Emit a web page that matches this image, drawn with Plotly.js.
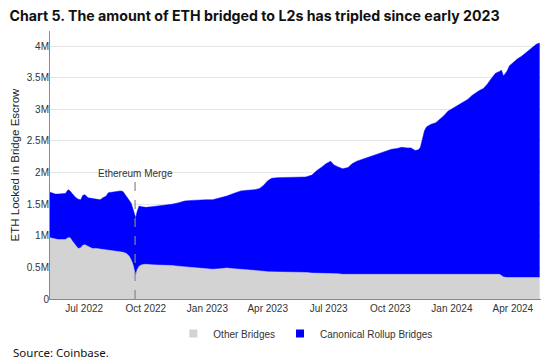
<!DOCTYPE html>
<html>
<head>
<meta charset="utf-8">
<script src="https://cdn.plot.ly/plotly-3.0.1.min.js"></script>
<style>html,body{margin:0;padding:0;background:#fff;}#chart{width:555px;height:361px;}</style>
</head>
<body>
<div id="chart"></div>
<script>
// Dates of samples
const dates = [
"2022-05-11","2022-05-19","2022-05-23","2022-05-29","2022-06-03","2022-06-07","2022-06-10","2022-06-13","2022-06-18","2022-06-22",
"2022-06-26","2022-06-29","2022-07-02","2022-07-07","2022-07-13","2022-07-19","2022-07-25","2022-07-29","2022-08-03","2022-08-06",
"2022-08-12","2022-08-18","2022-08-24","2022-08-28","2022-09-02","2022-09-06","2022-09-09","2022-09-12","2022-09-15","2022-09-16",
"2022-09-18","2022-09-21","2022-09-25","2022-10-01","2022-10-10","2022-10-19","2022-10-29","2022-11-09","2022-11-18","2022-11-28",
"2022-12-09","2022-12-19","2022-12-30","2023-01-09","2023-01-20","2023-01-30","2023-02-09","2023-02-20","2023-03-02","2023-03-13",
"2023-03-20","2023-03-26","2023-04-01","2023-04-07","2023-04-16","2023-04-26","2023-05-07","2023-05-17","2023-05-28","2023-06-06",
"2023-06-13","2023-06-21","2023-06-27","2023-07-04","2023-07-09","2023-07-15","2023-07-22","2023-07-30","2023-08-05","2023-08-12",
"2023-08-20","2023-08-27","2023-09-03","2023-09-11","2023-09-18","2023-09-26","2023-10-03","2023-10-11","2023-10-18","2023-10-26",
"2023-11-01","2023-11-07","2023-11-12","2023-11-15","2023-11-18","2023-11-21","2023-11-24","2023-11-30","2023-12-08","2023-12-14",
"2023-12-20","2023-12-26","2024-01-01","2024-01-07","2024-01-13","2024-01-19","2024-01-25","2024-01-31","2024-02-06","2024-02-11",
"2024-02-17","2024-02-23","2024-02-29","2024-03-06","2024-03-12","2024-03-15","2024-03-18","2024-03-23","2024-03-27","2024-04-02",
"2024-04-08","2024-04-14","2024-04-20","2024-04-26","2024-05-02","2024-05-06","2024-05-11"
];
// ETH locked, millions
const otherBridges = [
0.97,0.95,0.94,0.94,0.94,0.97,0.97,0.92,0.86,0.80,
0.81,0.85,0.86,0.83,0.80,0.80,0.79,0.79,0.78,0.78,
0.77,0.76,0.75,0.74,0.72,0.68,0.62,0.54,0.40,0.37,
0.46,0.52,0.54,0.55,0.54,0.54,0.53,0.53,0.52,0.51,
0.50,0.49,0.47,0.47,0.48,0.49,0.48,0.47,0.46,0.46,
0.45,0.44,0.43,0.43,0.43,0.42,0.42,0.42,0.42,0.41,
0.41,0.41,0.41,0.40,0.40,0.40,0.39,0.39,0.39,0.38,
0.38,0.38,0.38,0.38,0.38,0.38,0.38,0.38,0.38,0.38,
0.38,0.39,0.39,0.39,0.39,0.39,0.39,0.39,0.39,0.39,
0.39,0.39,0.39,0.39,0.39,0.39,0.39,0.39,0.39,0.39,
0.39,0.39,0.39,0.39,0.39,0.37,0.35,0.34,0.34,0.34,
0.34,0.34,0.34,0.34,0.34,0.34,0.34
];
const canonicalRollupBridges = [
0.72,0.71,0.72,0.72,0.73,0.76,0.74,0.75,0.75,0.78,
0.76,0.79,0.79,0.77,0.79,0.78,0.78,0.81,0.85,0.90,
0.92,0.94,0.96,0.96,0.91,0.89,0.90,0.88,0.90,0.91,
0.92,0.95,0.92,0.90,0.92,0.93,0.95,0.97,1.00,1.04,
1.06,1.08,1.10,1.10,1.12,1.14,1.19,1.24,1.26,1.27,
1.30,1.36,1.44,1.48,1.49,1.50,1.50,1.51,1.51,1.55,
1.62,1.68,1.73,1.78,1.72,1.69,1.67,1.69,1.75,1.80,
1.83,1.85,1.87,1.91,1.93,1.96,1.99,2.00,2.02,2.01,
2.01,1.96,1.97,2.01,2.13,2.27,2.33,2.37,2.40,2.45,
2.51,2.58,2.62,2.65,2.69,2.73,2.77,2.83,2.88,2.91,
2.94,3.01,3.10,3.18,3.21,3.25,3.18,3.26,3.35,3.41,
3.46,3.50,3.55,3.60,3.66,3.69,3.71
];
const seriesNames = ["Other Bridges", "Canonical Rollup Bridges"];
const seriesColors = ["#d3d3d3", "#0000ff"];
const yTickVals = [0,0.5,1,1.5,2,2.5,3,3.5,4];
const yTickText = ["0","0.5M","1M","1.5M","2M","2.5M","3M","3.5M","4M"];
const mergeDate = "2022-09-15";
const mergeLabel = "Ethereum Merge";

const sans = '"Liberation Sans", Arial, sans-serif';

const traces = [
  {x: dates, y: otherBridges, name: seriesNames[0], type: "scatter", mode: "lines", showlegend: false,
   stackgroup: "one", line: {width: 0.5, color: seriesColors[0]}, fillcolor: seriesColors[0]},
  {x: dates, y: canonicalRollupBridges, name: seriesNames[1], type: "scatter", mode: "lines", showlegend: false,
   stackgroup: "one", line: {width: 0.5, color: seriesColors[1]}, fillcolor: seriesColors[1]},
  // legend keys (square swatches)
  {x: [null], y: [null], name: seriesNames[0], type: "scatter", mode: "markers",
   marker: {symbol: "square", size: 8, color: seriesColors[0]}},
  {x: [null], y: [null], name: seriesNames[1], type: "scatter", mode: "markers",
   marker: {symbol: "square", size: 8, color: seriesColors[1]}}
];

const layout = {
  width: 555, height: 361,
  margin: {l: 50, r: 14, t: 31, b: 62},
  paper_bgcolor: "#fff", plot_bgcolor: "#fff",
  title: {text: "<b>Chart 5. The amount of ETH bridged to L2s has tripled since early 2023</b>",
    x: 0.017, xanchor: "left", xref: "container", y: 0.955, yanchor: "middle", yref: "container",
    font: {family: "Inter, sans-serif", size: 14.2, color: "#111"}},
  xaxis: {type: "date", range: ["2022-05-11", "2024-05-13"], tickformat: "%b %Y",
    tick0: "2022-07-01", dtick: "M3", showgrid: false, showline: true, linecolor: "#888", linewidth: 1,
    ticks: "", tickfont: {family: sans, size: 10, color: "#333"}, zeroline: false},
  yaxis: {range: [0, 4.24], tickvals: yTickVals, ticktext: yTickText, showgrid: true, gridcolor: "#e6e6e6",
    showline: true, linecolor: "#888", linewidth: 1, ticks: "", zeroline: false, ticklabelstandoff: -2,
    tickfont: {family: sans, size: 10, color: "#333"},
    title: {text: "ETH Locked in Bridge Escrow", font: {family: sans, size: 11.5, color: "#222"}, standoff: 4}},
  showlegend: true,
  legend: {orientation: "h", traceorder: "normal", x: 0.52, xanchor: "center", y: -0.075, yanchor: "top",
    font: {family: sans, size: 10, color: "#333"}},
  shapes: [{type: "line", xref: "x", yref: "y", x0: mergeDate, x1: mergeDate, y0: 0, y1: 1.86,
    line: {color: "#888", width: 1.2, dash: "dash"}}],
  annotations: [
    {xref: "x", yref: "y", x: mergeDate, y: 1.98, text: mergeLabel, showarrow: false,
     font: {family: sans, size: 10, color: "#333"}},
    {xref: "paper", yref: "paper", x: -0.08, xanchor: "left", y: -0.165, yanchor: "top",
     text: "Source: Coinbase.", showarrow: false, font: {family: '"Noto Sans", sans-serif', size: 11.5, color: "#111"}}
  ]
};
Plotly.newPlot("chart", traces, layout, {displayModeBar: false, staticPlot: true});
</script>
</body>
</html>
